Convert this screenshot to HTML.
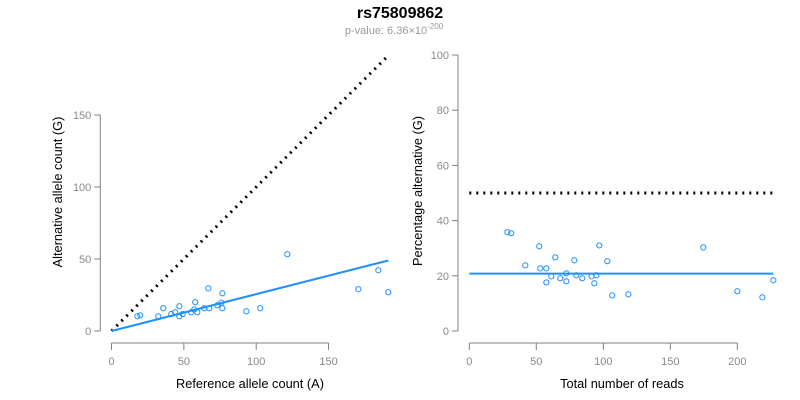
<!DOCTYPE html>
<html><head><meta charset="utf-8"><style>
body{margin:0;background:#fff;}
svg{display:block;font-family:"Liberation Sans",Arial,sans-serif;}
</style></head><body>
<svg id="c" width="800" height="400">
<text x="400" y="18" text-anchor="middle" font-size="16" font-weight="bold">rs75809862</text>
<text x="394" y="34" text-anchor="middle" font-size="11" fill="#999">p-value: 6.36×10<tspan dy="-5" font-size="8">-200</tspan></text>
</svg>
<script>
const refCounts=[17.8,19.9,32.3,35.8,41.3,44,46.9,46.9,49.2,55,57.2,57.9,59.3,64.1,66.9,67.6,73.1,75.9,76.6,76.6,93.2,102.8,121.5,170.6,184.4,191.3];
const altCounts=[10.2,10.9,10.2,15.8,11.8,13,17.2,10.2,11.8,13,15,20,13,15.8,29.6,15.8,17.8,19.7,26.2,15.8,13.7,15.8,53.3,29,42.2,26.9];
const totalReads=[28.4,31.3,52.2,41.8,53,57.5,64.2,61.2,57.5,67.9,72.4,72.4,78.4,79.9,84.3,91.3,94.8,93.3,97,103,106.7,118.7,174.6,200,218.7,226.9];
const pctAlt=[35.8,35.4,30.7,23.8,22.7,22.7,26.7,19.8,17.6,19.1,20.9,18,25.6,20.2,19.1,19.8,20.2,17.3,31,25.3,12.9,13.3,30.3,14.4,12.2,18.4];
const leftXTicks=[0,50,100,150];
const leftYTicks=[0,50,100,150];
const rightXTicks=[0,50,100,150,200];
const rightYTicks=[0,20,40,60,80,100];
const fitSlope=0.256;
const fitPct=20.8;
const nullPct=50;

const svg=document.getElementById('c');
const NS='http://www.w3.org/2000/svg';
function mk(tag,attrs,parent){const e=document.createElementNS(NS,tag);for(const k in attrs)e.setAttribute(k,attrs[k]);(parent||svg).appendChild(e);return e;}
const lx=v=>111.5+v*1.447, ly=v=>331-v*1.44;
const rx=v=>469.3+v*1.34, ry=v=>331-v*2.76;

function axes(xs,ys,xTicks,yTicks,xAxisY,yAxisX,xTitle,yTitle,xTitleX,yTitleX,yTitleY,prefix){
  let g=mk('g',{});
  
  
  mk('line',{x1:xs(xTicks[0]),x2:xs(xTicks[xTicks.length-1]),y1:xAxisY,y2:xAxisY,stroke:'#808080'},g);
  xTicks.forEach(t=>{mk('line',{x1:xs(t),x2:xs(t),y1:xAxisY,y2:xAxisY+7,stroke:'#808080'},g);
    const tx=mk('text',{x:xs(t),y:xAxisY+22,'text-anchor':'middle','font-size':11,fill:'#888'},g);tx.textContent=t;});
  let g2=mk('g',{});
  
  
  mk('line',{x1:yAxisX,x2:yAxisX,y1:ys(yTicks[0]),y2:ys(yTicks[yTicks.length-1]),stroke:'#808080'},g2);
  yTicks.forEach(t=>{mk('line',{x1:yAxisX,x2:yAxisX-6,y1:ys(t),y2:ys(t),stroke:'#808080'},g2);
    const tx=mk('text',{x:yAxisX-9,y:ys(t)+4,'text-anchor':'end','font-size':11,fill:'#888'},g2);tx.textContent=t;});
  const xt=mk('text',{x:xTitleX,y:388,'text-anchor':'middle','font-size':12.8});xt.textContent=xTitle;
  
  
  const cy=yTitleY;
  const yt=mk('text',{x:yTitleX,y:cy,'text-anchor':'middle','font-size':12.8,transform:`rotate(-90 ${yTitleX} ${cy})`});yt.textContent=yTitle;
  
  
}
axes(lx,ly,leftXTicks,leftYTicks,343,100.3,'Reference allele count (A)','Alternative allele count (G)',250,62,192,'left');
axes(rx,ry,rightXTicks,rightYTicks,343,458,'Total number of reads','Percentage alternative (G)',622,422,191,'right');

const maxRef=Math.max(...refCounts);
let l1=mk('line',{x1:lx(0),y1:ly(0),x2:lx(maxRef),y2:ly(maxRef),stroke:'#000','stroke-width':3,'stroke-dasharray':'2 5'});


let l2=mk('line',{x1:lx(0),y1:ly(0),x2:lx(maxRef),y2:ly(maxRef*fitSlope),stroke:'#1e90ff','stroke-width':2});


refCounts.forEach((r,i)=>{const c=mk('circle',{cx:lx(r),cy:ly(altCounts[i]),r:2.6,fill:'none',stroke:'#1e90ff','stroke-width':1});
  
  });

const maxTot=Math.max(...totalReads);
let r1=mk('line',{x1:rx(0),y1:ry(nullPct),x2:rx(maxTot),y2:ry(nullPct),stroke:'#000','stroke-width':3,'stroke-dasharray':'2 5'});


let r2=mk('line',{x1:rx(0),y1:ry(fitPct),x2:rx(maxTot),y2:ry(fitPct),stroke:'#1e90ff','stroke-width':2});


totalReads.forEach((t,i)=>{const c=mk('circle',{cx:rx(t),cy:ry(pctAlt[i]),r:2.6,fill:'none',stroke:'#1e90ff','stroke-width':1});
  
  });
</script>
</body></html>
